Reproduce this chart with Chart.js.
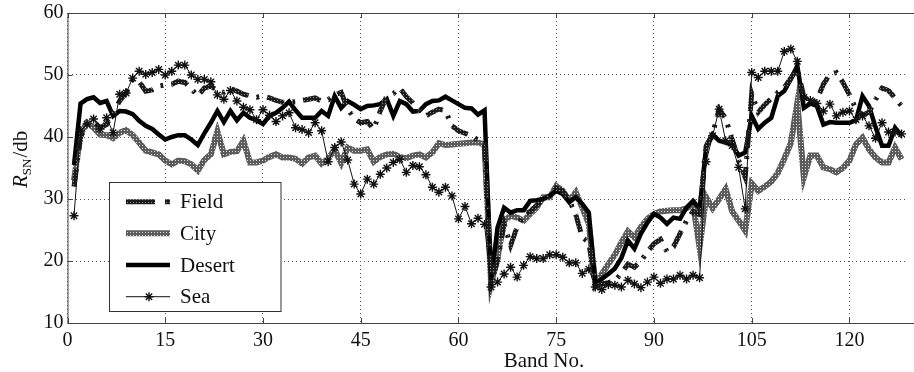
<!DOCTYPE html>
<html>
<head>
<meta charset="utf-8">
<script src="https://cdn.jsdelivr.net/npm/chart.js@4.4.0/dist/chart.umd.min.js"></script>
<style>
  html, body { margin: 0; padding: 0; background: #fff; }
  #wrap { width: 914px; height: 372px; }
</style>
</head>
<body>
<div id="wrap"><canvas id="myChart"></canvas></div>
<script>
const bands = Array.from({ length: 128 }, (_, i) => i + 1);

const field = [
  32.0, 40.0, 42.0, 42.5, 41.5, 42.0, 44.0, 45.8, 47.1, 49.3,
  48.9, 47.4, 47.6, 48.2, 48.4, 48.5, 49.0, 48.8, 47.8, 46.6,
  47.9, 48.2, 47.5, 47.2, 47.8, 47.4, 46.9, 46.6, 46.4, 46.6,
  46.3, 45.9, 45.6, 45.6, 45.7, 45.9, 46.1, 46.3, 45.8, 46.0,
  46.8, 47.2, 44.5, 43.0, 42.3, 42.5, 41.3, 44.2, 46.6, 47.0,
  47.9, 46.5, 45.5, 44.2, 43.4, 44.0, 44.5, 44.2, 41.8, 41.0,
  40.6, 40.2, 39.5, 38.8, 16.5, 20.0, 26.0, 22.5, 25.5, 27.5,
  28.0, 29.0, 30.0, 30.5, 31.8, 31.3, 29.8, 27.5, 23.8, 23.0,
  16.0, 16.3, 16.5, 16.8, 18.0, 19.5, 19.0, 20.0, 21.5, 22.8,
  23.5, 21.5, 22.3, 24.4, 26.5, 28.0, 27.5, 38.5, 40.5, 44.5,
  43.0, 39.6, 36.2, 33.5, 47.0, 44.0, 45.2, 46.2, 47.2, 48.0,
  49.5, 51.0, 46.5, 45.5, 46.0, 48.5, 50.1, 50.4, 48.8, 46.8,
  44.5, 43.5, 44.0, 46.0, 47.9, 47.5, 46.3, 45.0
];

const city = [
  33.0, 40.5, 42.3, 41.5, 40.4, 40.3, 39.8, 40.7, 41.1, 40.3,
  39.1, 37.8, 37.5, 37.2, 36.2, 35.6, 36.2, 36.1, 35.6, 34.6,
  36.3, 37.2, 40.9, 37.2, 37.6, 37.7, 39.4, 35.9, 35.9, 36.2,
  36.8, 37.2, 36.7, 36.7, 36.5, 35.7, 36.7, 37.0, 35.7, 36.5,
  38.0, 35.8, 38.3, 37.8, 37.8, 38.0, 36.0, 36.8, 37.2, 37.3,
  36.8, 36.6, 37.0, 37.2, 36.7, 37.5, 39.0, 38.7, 38.8, 38.9,
  39.0, 39.1, 39.1, 38.8, 16.3, 20.6, 26.5, 27.3, 27.0, 26.5,
  27.6, 28.6, 30.3, 30.3, 32.1, 31.3, 29.7, 31.1, 28.6, 26.0,
  16.3, 17.9, 19.5, 21.0, 23.0, 24.8, 23.8, 25.5, 26.8, 27.6,
  28.0, 28.1, 28.2, 28.2, 28.5, 29.2, 22.2, 30.3, 28.5, 30.0,
  31.6, 28.0, 26.5, 24.9, 32.5, 31.3, 32.0, 32.8, 34.2, 36.5,
  39.0, 45.5, 33.5, 37.0, 37.0, 35.1, 34.8, 34.3, 35.0, 36.2,
  38.8, 39.9, 38.0, 36.7, 35.9, 35.9, 38.3, 36.4
];

const desert = [
  35.5, 45.4, 46.1, 46.4, 45.5, 45.8, 43.4, 44.2, 44.1, 43.7,
  42.6, 41.8, 41.3, 40.4, 39.6, 40.0, 40.3, 40.3, 39.6, 38.7,
  40.6, 42.3, 44.2, 42.4, 44.2, 42.7, 43.9, 43.1, 42.7, 42.1,
  43.4, 43.9, 44.7, 45.7, 44.3, 43.1, 43.1, 43.1, 44.2, 43.4,
  46.6, 44.7, 45.8, 45.2, 44.5, 45.0, 45.1, 45.3, 46.1, 43.4,
  45.8, 45.3, 44.1, 44.2, 45.3, 45.8, 45.9, 46.5, 45.9, 45.3,
  44.7, 44.6, 43.6, 44.3, 16.9, 25.4, 28.6, 27.8, 28.2, 28.2,
  29.7, 29.8, 30.0, 30.5, 31.3, 30.8, 29.5, 30.3, 29.2, 27.8,
  16.3, 17.1, 17.9, 18.8, 20.5, 23.3, 22.0, 24.4, 26.2, 27.6,
  27.0, 26.0, 27.0, 26.8, 28.6, 29.7, 28.4, 38.3, 40.4, 39.4,
  39.1, 38.8, 37.0, 37.5, 43.4, 41.3, 42.3, 43.1, 46.6, 47.4,
  49.3, 51.5, 44.7, 45.4, 45.0, 42.0, 42.4, 42.3, 42.3, 42.3,
  42.7, 46.6, 45.0, 41.6, 38.6, 38.6, 41.5, 40.2
];

const sea = [
  27.3, 41.0, 42.1, 42.9, 41.3, 43.1, 40.7, 46.9, 47.1, 49.5,
  50.6, 50.1, 50.4, 50.9, 50.0, 50.6, 51.6, 51.6, 50.0, 49.3,
  49.3, 48.9, 46.8, 46.1, 47.5, 45.8, 44.8, 44.4, 42.8, 44.4,
  43.5, 42.5, 43.4, 43.9, 41.5, 41.2, 40.7, 42.3, 41.0, 36.0,
  38.3, 39.2, 36.3, 32.4, 30.8, 33.2, 32.4, 34.0, 35.0, 35.9,
  36.4, 34.3, 35.4, 35.2, 33.9, 31.9, 31.1, 31.9, 30.5, 26.8,
  28.8, 26.0, 26.9, 25.9, 15.8, 16.6, 17.9, 19.0, 17.4, 19.3,
  20.7, 20.4, 20.4, 21.0, 21.0, 20.6, 19.7, 19.7, 18.0, 18.7,
  15.8, 15.4, 16.2, 16.1, 15.8, 16.9, 16.3, 15.7, 16.6, 17.4,
  16.4, 17.1, 17.1, 17.7, 17.1, 17.7, 17.3, 36.0, 40.2, 44.5,
  39.4, 38.6, 35.1, 28.4, 50.4, 49.6, 50.6, 50.6, 50.6, 53.8,
  54.2, 52.2, 46.4, 45.9, 45.4, 44.2, 45.3, 43.4, 44.0, 44.2,
  42.8, 43.4, 41.8, 39.8, 42.3, 40.8, 40.8, 40.5
];

const seriesNames = ["Field", "City", "Desert", "Sea"];
const xTickStep = 15;
const yTickStep = 10;

const serif = "'Liberation Serif', 'DejaVu Serif', serif";

// small halftone tile, the lines in the figure have a dotted texture
function makePattern(base, dot) {
  const c = document.createElement("canvas");
  c.width = 3;
  c.height = 3;
  const g = c.getContext("2d");
  g.fillStyle = base;
  g.fillRect(0, 0, 3, 3);
  g.fillStyle = dot;
  g.fillRect(1, 1, 1, 1);
  return g.createPattern(c, "repeat");
}

const cityInk = makePattern("#5c5c5c", "#dcdcdc");
const fieldInk = makePattern("#1c1c1c", "#8c8c8c");

function toPoints(values) {
  return values.map((v, i) => ({ x: bands[i], y: v }));
}

const styles = {
  Field: { color: fieldInk, width: 5, dash: [18, 8, 3, 8], legendDash: [29, 10, 5, 40] },
  City: { color: cityInk, width: 6, dash: [], legendDash: [] },
  Desert: { color: "#000", width: 4.5, dash: [], legendDash: [] },
  Sea: { color: "#111", width: 1, dash: [], legendDash: [] },
};

const frameAndText = {
  id: "frameAndText",
  afterDatasetsDraw(chart) {
    const { ctx, chartArea: a, scales } = chart;
    ctx.save();
    // axes box (right side runs off the picture)
    ctx.strokeStyle = "#444";
    ctx.lineWidth = 1;
    ctx.beginPath();
    ctx.moveTo(chart.width, a.top + 0.5);
    ctx.lineTo(a.left + 0.5, a.top + 0.5);
    ctx.lineTo(a.left + 0.5, a.bottom + 0.5);
    ctx.lineTo(chart.width, a.bottom + 0.5);
    ctx.stroke();
    // little inward ticks
    ctx.beginPath();
    scales.x.ticks.forEach((t) => {
      const px = Math.round(scales.x.getPixelForValue(t.value)) + 0.5;
      ctx.moveTo(px, a.bottom);
      ctx.lineTo(px, a.bottom - 5);
      ctx.moveTo(px, a.top);
      ctx.lineTo(px, a.top + 5);
    });
    scales.y.ticks.forEach((t) => {
      const py = Math.round(scales.y.getPixelForValue(t.value)) + 0.5;
      ctx.moveTo(a.left, py);
      ctx.lineTo(a.left + 5, py);
    });
    ctx.stroke();

    // legend box
    const lx = 109.5, ly = 182.5, lw = 171.5, lh = 129;
    ctx.fillStyle = "#fff";
    ctx.fillRect(lx, ly, lw, lh);
    ctx.strokeStyle = "#333";
    ctx.strokeRect(lx, ly, lw, lh);
    const rows = [201.7, 233.3, 265, 296.7];
    ctx.font = "21px " + serif;
    ctx.textBaseline = "middle";
    seriesNames.forEach((name, i) => {
      const s = styles[name];
      const y = rows[i];
      ctx.save();
      ctx.strokeStyle = s.color;
      ctx.lineWidth = s.width;
      ctx.setLineDash(s.legendDash);
      ctx.beginPath();
      ctx.moveTo(126, y);
      ctx.lineTo(170, y);
      ctx.stroke();
      ctx.restore();
      if (name === "Sea") {
        ctx.save();
        ctx.strokeStyle = "#111";
        ctx.lineWidth = 1.4;
        Chart.helpers.drawPoint(ctx, { pointStyle: "star", radius: 4.5, borderWidth: 1.4 }, 149, y);
        ctx.restore();
      }
      ctx.fillStyle = "#111";
      ctx.textAlign = "left";
      ctx.fillText(name, 180, y + 1);
    });

    // x axis title
    ctx.fillStyle = "#111";
    ctx.textAlign = "center";
    ctx.textBaseline = "alphabetic";
    ctx.font = "21px " + serif;
    ctx.fillText("Band No.", 544, 367);

    // y axis title: R with subscript SN, then /db
    ctx.save();
    ctx.translate(27, 188);
    ctx.rotate(-Math.PI / 2);
    ctx.textAlign = "left";
    ctx.font = "italic 21px " + serif;
    ctx.fillText("R", 0, 0);
    let w = ctx.measureText("R").width;
    ctx.font = "13px " + serif;
    ctx.fillText("SN", w, 4);
    w += ctx.measureText("SN").width + 1;
    ctx.font = "21px " + serif;
    ctx.fillText("/db", w, 0);
    ctx.restore();
    ctx.restore();
  },
};

const datasets = seriesNames.map((name, i) => {
  const values = [field, city, desert, sea][i];
  const s = styles[name];
  return {
    label: name,
    data: toPoints(values),
    borderColor: s.color,
    borderWidth: s.width,
    borderDash: s.dash,
    borderJoinStyle: "miter",
    pointRadius: name === "Sea" ? 4.5 : 0,
    pointStyle: "star",
    pointBorderColor: "#111",
    pointBorderWidth: 1.4,
    tension: 0,
    fill: false,
    order: { Sea: 0, Field: 1, Desert: 2, City: 3 }[name],
  };
});

const config = {
  type: "line",
  data: { datasets: datasets },
  options: {
    responsive: true,
    maintainAspectRatio: false,
    animation: false,
    events: [],
    layout: { padding: { left: 0, right: 0, top: 0, bottom: 0 } },
    scales: {
      x: {
        type: "linear",
        min: 0,
        max: 129,
        afterFit(scale) {
          scale.height = 49;
        },
        ticks: {
          stepSize: xTickStep,
          includeBounds: false,
          padding: 6,
          color: "#111",
          font: { family: serif, size: 20 },
        },
        grid: { color: "#555", lineWidth: 1, drawTicks: false },
        border: { display: false, dash: [1, 3] },
      },
      y: {
        min: 10,
        max: 60,
        afterFit(scale) {
          scale.width = 67.5;
        },
        ticks: {
          stepSize: yTickStep,
          padding: 4,
          color: "#111",
          font: { family: serif, size: 20, lineHeight: 0.9 },
        },
        grid: { color: "#555", lineWidth: 1, drawTicks: false },
        border: { display: false, dash: [1, 3] },
      },
    },
    plugins: {
      legend: { display: false },
      tooltip: { enabled: false },
    },
  },
  plugins: [frameAndText],
};

const myChart = new Chart(document.getElementById("myChart"), config);
</script>
</body>
</html>
